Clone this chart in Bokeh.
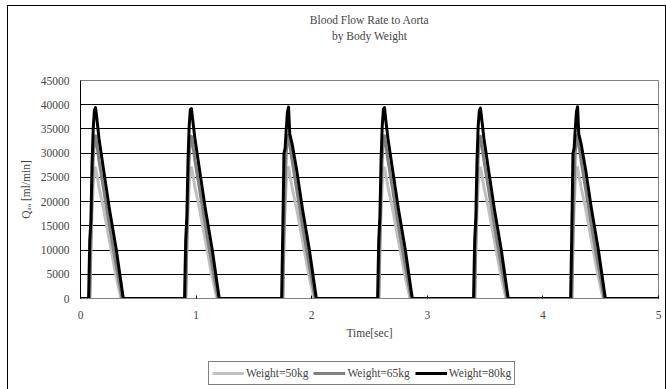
from bokeh.plotting import figure
from bokeh.layouts import column
from bokeh.models import (Range1d, SingleIntervalTicker, NumeralTickFormatter,
                          Legend, LegendItem, Title)
from bokeh.embed import file_html
from bokeh.resources import INLINE

# Aortic flow samples [ml/min] against time [sec], one list pair per body weight
time_50kg = [0.00,
             0.08, 0.09, 0.10, 0.11, 0.12, 0.13, 0.14, 0.16, 0.20, 0.25, 0.30, 0.35,
             0.91, 0.92, 0.93, 0.94, 0.95, 0.96, 0.97, 0.99, 1.03, 1.08, 1.13, 1.18,
             1.75, 1.76, 1.77, 1.78, 1.79, 1.80, 1.81, 1.83, 1.87, 1.92, 1.97, 2.02,
             2.58, 2.59, 2.60, 2.61, 2.62, 2.63, 2.64, 2.66, 2.70, 2.75, 2.80, 2.85,
             3.41, 3.42, 3.43, 3.44, 3.45, 3.46, 3.47, 3.49, 3.53, 3.58, 3.63, 3.68,
             4.25, 4.26, 4.27, 4.28, 4.29, 4.30, 4.31, 4.33, 4.37, 4.42, 4.47, 4.52,
             5.00]
flow_50kg = [0,
             0, 10000, 18000, 23500, 26300, 27000, 25800, 23000, 18500, 12000, 5500, 0,
             0, 10000, 18000, 23500, 26400, 27000, 25800, 23000, 18500, 12000, 5500, 0,
             0, 11000, 19000, 24000, 26500, 27100, 25600, 23000, 18500, 12000, 5500, 0,
             0, 10000, 18000, 23500, 26300, 27000, 25800, 23000, 18500, 12000, 5500, 0,
             0, 10000, 18000, 23500, 26400, 27000, 25800, 23000, 18500, 12000, 5500, 0,
             0, 11000, 19000, 24000, 26500, 27100, 25600, 23000, 18500, 12000, 5500, 0,
             0]

time_65kg = [0.00,
             0.08, 0.09, 0.10, 0.11, 0.12, 0.13, 0.14, 0.16, 0.20, 0.25, 0.30, 0.36,
             0.91, 0.92, 0.93, 0.94, 0.95, 0.96, 0.97, 0.99, 1.03, 1.08, 1.13, 1.19,
             1.75, 1.76, 1.77, 1.78, 1.79, 1.80, 1.81, 1.83, 1.87, 1.92, 1.97, 2.03,
             2.58, 2.59, 2.60, 2.61, 2.62, 2.63, 2.64, 2.66, 2.70, 2.75, 2.80, 2.86,
             3.41, 3.42, 3.43, 3.44, 3.45, 3.46, 3.47, 3.49, 3.53, 3.58, 3.63, 3.69,
             4.25, 4.26, 4.27, 4.28, 4.29, 4.30, 4.31, 4.33, 4.37, 4.42, 4.47, 4.53,
             5.00]
flow_65kg = [0,
             0, 12000, 22000, 29000, 32500, 33600, 32000, 28500, 22500, 15000, 8000, 0,
             0, 12000, 22000, 29000, 32600, 33500, 32000, 28500, 22500, 15000, 8000, 0,
             0, 13000, 23000, 30000, 33000, 33700, 31800, 28500, 22500, 15000, 8000, 0,
             0, 12000, 22000, 29000, 32500, 33600, 32000, 28500, 22500, 15000, 8000, 0,
             0, 12000, 22000, 29000, 32600, 33500, 32000, 28500, 22500, 15000, 8000, 0,
             0, 13000, 23000, 30000, 33000, 33700, 31800, 28500, 22500, 15000, 8000, 0,
             0]

time_80kg = [0.00,
             0.07, 0.08, 0.09, 0.10, 0.11, 0.12, 0.13, 0.14, 0.16, 0.20, 0.25, 0.31, 0.37,
             0.90, 0.91, 0.92, 0.93, 0.94, 0.95, 0.96, 0.97, 0.99, 1.03, 1.08, 1.14, 1.20,
             1.74, 1.75, 1.76, 1.77, 1.78, 1.79, 1.80, 1.81, 1.83, 1.87, 1.92, 1.98, 2.04,
             2.57, 2.58, 2.59, 2.60, 2.61, 2.62, 2.63, 2.64, 2.66, 2.70, 2.75, 2.81, 2.87,
             3.40, 3.41, 3.42, 3.43, 3.44, 3.45, 3.46, 3.47, 3.49, 3.53, 3.58, 3.64, 3.70,
             4.24, 4.25, 4.26, 4.27, 4.28, 4.29, 4.30, 4.31, 4.33, 4.37, 4.42, 4.48, 4.54,
             5.00]
flow_80kg = [0,
             0, 12000, 16000, 28000, 35000, 38800, 39400, 37500, 33000, 26500, 18500, 10000, 0,
             0, 12000, 17000, 28500, 35500, 39000, 39200, 37000, 33000, 26500, 18500, 10000, 0,
             0, 14000, 30000, 31000, 35000, 38500, 39500, 34000, 32000, 26500, 18500, 10000, 0,
             0, 12000, 17000, 28500, 35500, 39000, 39400, 37000, 33000, 26500, 18500, 10000, 0,
             0, 12000, 17000, 28500, 35500, 38800, 39300, 37200, 33000, 26500, 18500, 10000, 0,
             0, 14000, 30000, 31000, 35000, 38500, 39600, 34000, 32000, 26500, 18500, 10000, 0,
             0]

series_labels = ["Weight=50kg", "Weight=65kg", "Weight=80kg"]
series_colors = ["#c0c0c0", "#808080", "#000000"]

serif = "Liberation Serif"
fs = "11.5px"

# main chart
p = figure(frame_width=578, frame_height=218,
           min_border_left=72, min_border_right=7, min_border_top=74, min_border_bottom=48,
           x_range=Range1d(0, 5), y_range=Range1d(0, 45000),
           output_backend="svg", toolbar_location=None,
           background_fill_color="white", border_fill_color="white")

# heading panel, stacked outward from the plot: blank spacer, subtitle, title
p.title.text = ""
title_style = dict(align="center", text_font=serif, text_font_size=fs,
                   text_font_style="normal")
p.add_layout(Title(text=" ", standoff=24, **title_style), "above")
p.add_layout(Title(text="by Body Weight", standoff=2, **title_style), "above")
p.add_layout(Title(text="Blood Flow Rate to Aorta", standoff=2, **title_style), "above")

p.outline_line_color = "#808080"
p.xgrid.visible = False
p.ygrid.grid_line_color = "black"
p.ygrid.grid_line_width = 1

p.xaxis.ticker = SingleIntervalTicker(interval=1)
p.yaxis.ticker = SingleIntervalTicker(interval=5000)
p.yaxis.formatter = NumeralTickFormatter(format="0")
for ax in (p.xaxis, p.yaxis):
    ax.minor_tick_line_color = None
    ax.major_tick_out = 0
    ax.major_label_text_font = serif
    ax.major_label_text_font_size = fs
    ax.axis_label_text_font = serif
    ax.axis_label_text_font_size = fs
    ax.axis_label_text_font_style = "normal"
p.xaxis.major_tick_in = 3
p.yaxis.major_tick_in = 0
p.xaxis.axis_line_color = "#808080"
p.yaxis.axis_line_color = "black"
p.xaxis.major_label_standoff = 8
p.yaxis.major_label_standoff = 7
p.xaxis.axis_label = "Time[sec]"
p.yaxis.axis_label = "Qₐₒ [ml/min]"
p.yaxis.axis_label_standoff = 6

for xs, ys, c in zip([time_50kg, time_65kg, time_80kg],
                     [flow_50kg, flow_65kg, flow_80kg], series_colors):
    p.line(xs, ys, line_color=c, line_width=3, line_join="round")

# strip underneath the chart that carries the series key
q = figure(width=657, height=44, min_border=0,
           x_range=Range1d(0, 1), y_range=Range1d(0, 1),
           x_axis_type=None, y_axis_type=None,
           output_backend="svg", toolbar_location=None,
           background_fill_color="white", border_fill_color="white")
q.grid.visible = False
q.outline_line_color = None
nan = float("nan")
# one undrawable point per key entry so the key picks up each line style
key_renderers = [q.line([nan], [nan], line_color=c, line_width=3) for c in series_colors]

legend = Legend(items=[LegendItem(label=lab, renderers=[r])
                       for lab, r in zip(series_labels, key_renderers)],
                orientation="horizontal", location=(128, 5),
                glyph_width=32, glyph_height=16, label_height=16,
                label_standoff=2, spacing=5, padding=3, margin=0,
                label_text_font=serif, label_text_font_size=fs,
                border_line_color="black", border_line_width=1,
                background_fill_alpha=1)
q.add_layout(legend, "center")

page = column(p, q, spacing=0)
page.margin = (5, 0, 0, 7)
page.styles = {"border": "1px solid black"}

open("out.html", "w").write(file_html(page, INLINE))
